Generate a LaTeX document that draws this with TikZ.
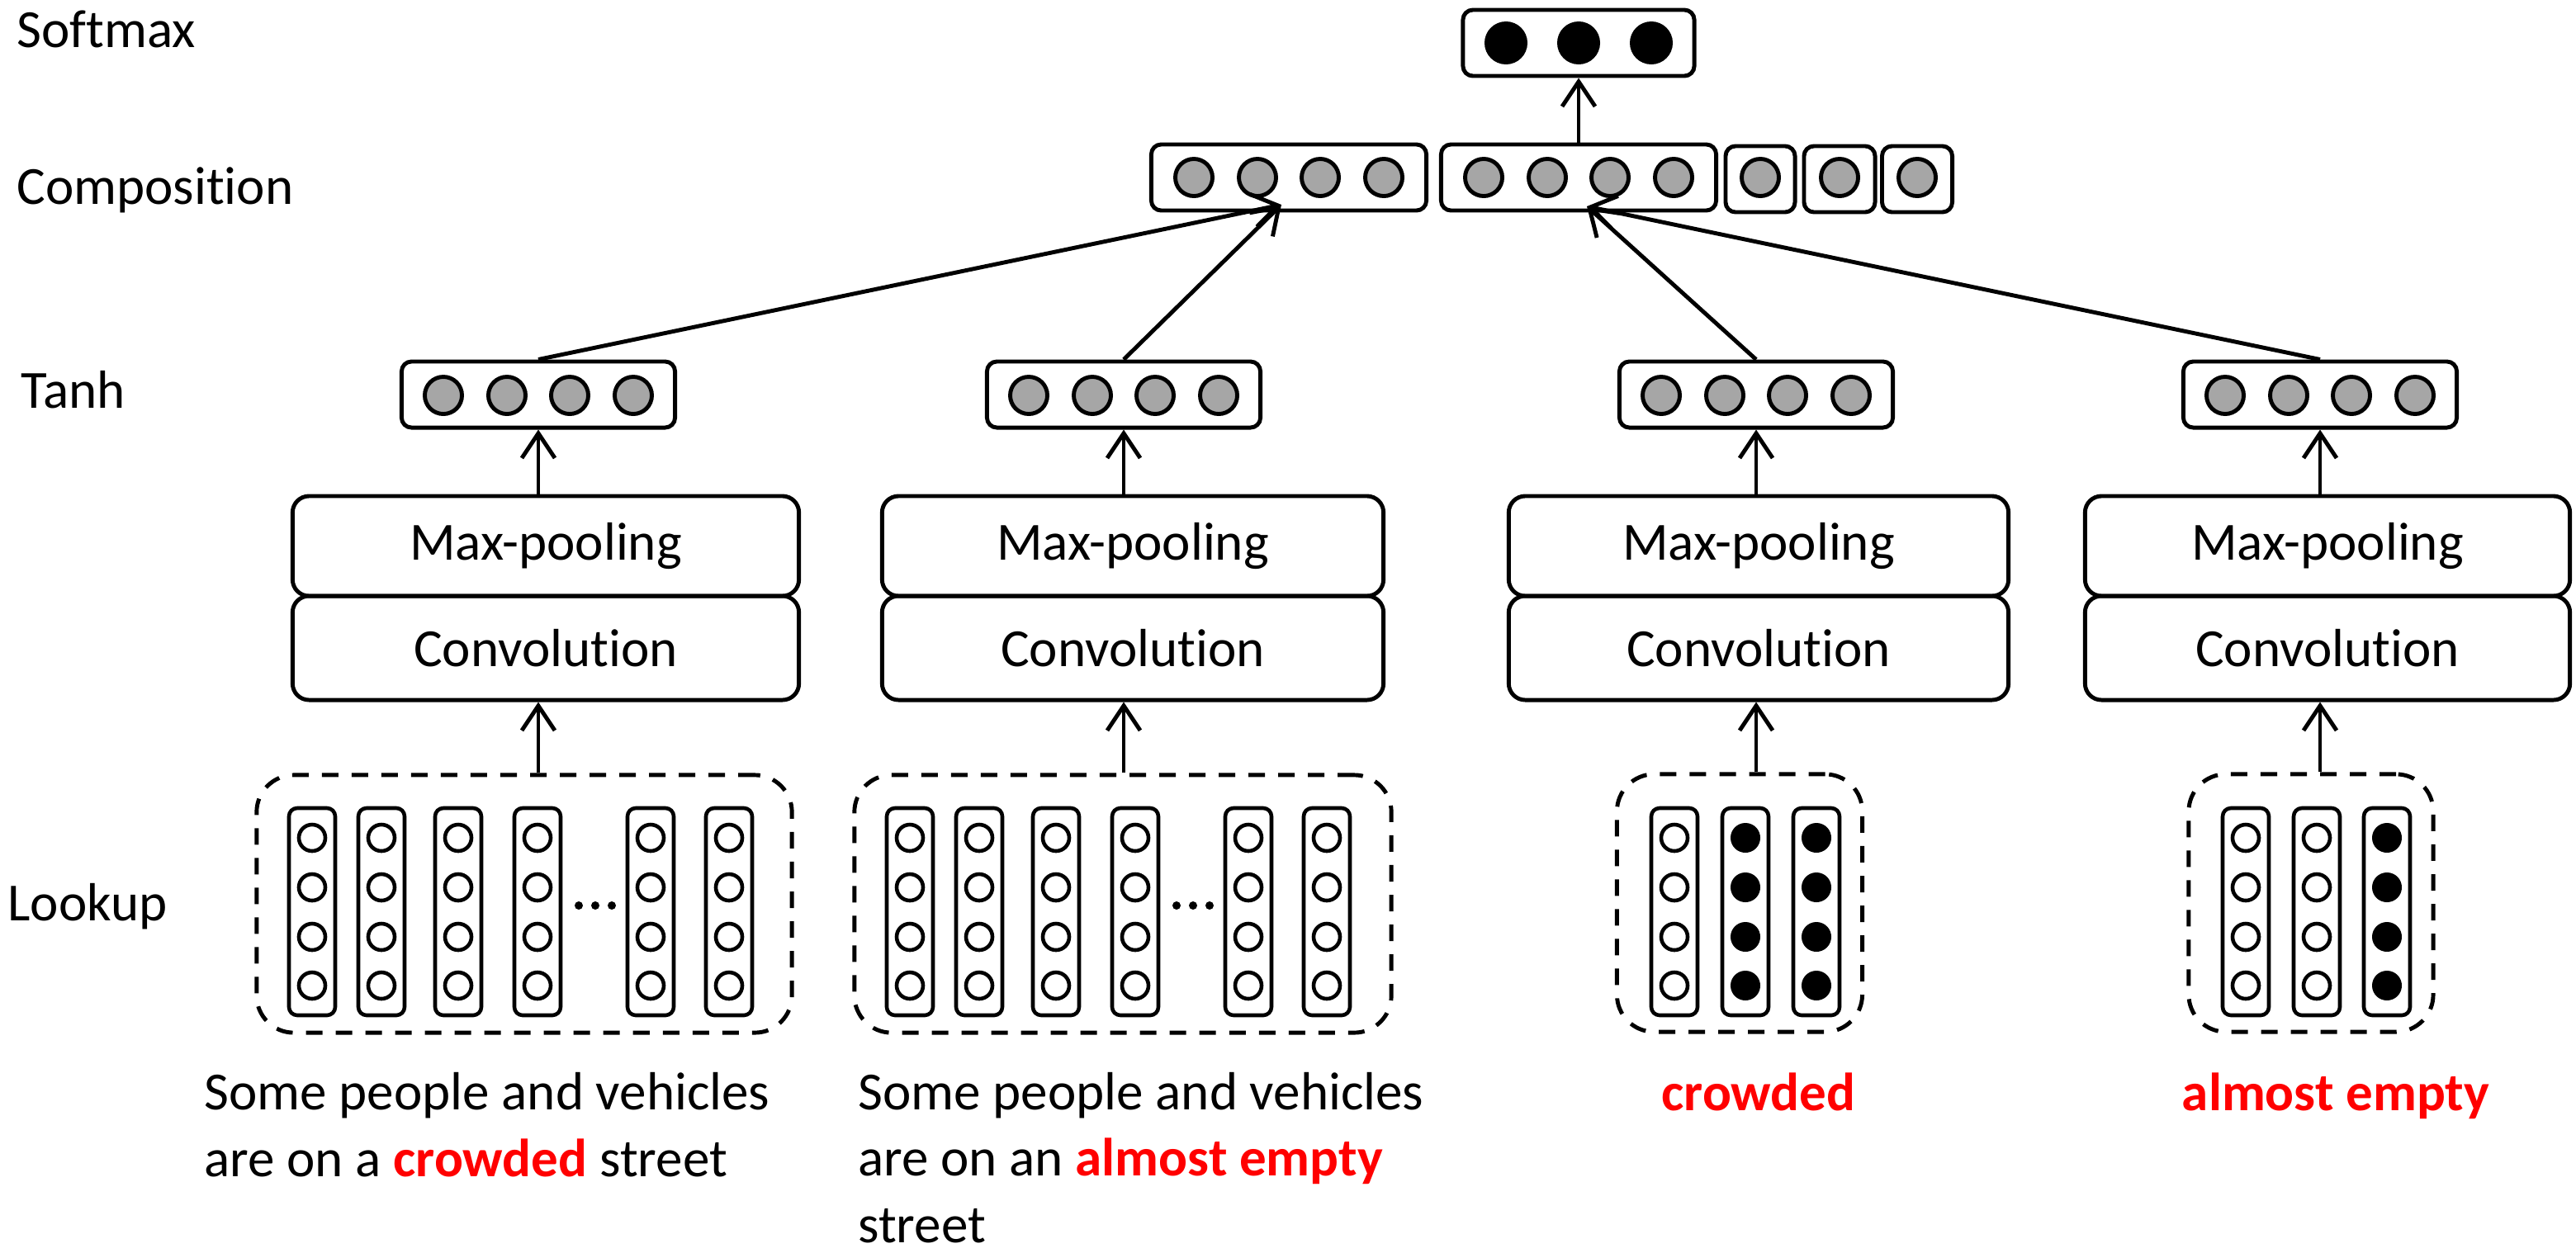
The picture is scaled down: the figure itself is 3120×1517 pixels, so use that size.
\documentclass[tikz,border=0pt]{standalone}
\usepackage{fontspec}
\setmainfont{Carlito}[Ligatures=NoCommon]
\usetikzlibrary{arrows.meta}
\definecolor{unit}{HTML}{A6A6A6}
\definecolor{keyword}{HTML}{FF0000}

\begin{document}
\begin{tikzpicture}[x=0.01cm, y=-0.01cm, line width=1.4pt,
  every node/.style={font=\fontsize{18.5}{22.8}\selectfont},
  vecbox/.style={draw, rounded corners=0.12cm, minimum height=0.8cm, inner sep=0pt},
  layerbox/.style={draw, rounded corners=0.2cm, inner sep=0pt},
  lookbox/.style={draw, dash pattern=on 0.2cm off 0.16cm, rounded corners=0.45cm, minimum height=3.12cm, inner sep=0pt},
  arr/.style={-{Straight Barb[length=0.3cm, width=0.4cm]}},
  lab/.style={anchor=base west, inner sep=0pt}]
  \useasboundingbox (0,0) rectangle (3120,1517);

  % Layer names
  \node[lab] (lsoft) at (18,57) {Softmax};
  \node[lab] (lcomp) at (18,247) {Composition};
  \node[lab] (ltanh) at (23,494) {Tanh};
  \node[lab] (llook) at (7,1115) {Lookup};

  % Softmax
  \node[vecbox, minimum width=2.8cm] (soft) at (1912,52) {};
  \foreach \x in {1824,1912,2000}
    \fill (\x,52) circle[radius=0.26cm];

  % Composition
  \node[vecbox, minimum width=3.33cm] (comp1) at (1561,215) {};
  \node[vecbox, minimum width=3.33cm] (comp2) at (1912,215) {};
  \node[vecbox, minimum width=0.84cm] (comp3) at (2132,217) {};
  \node[vecbox, minimum width=0.86cm] (comp4) at (2228,217) {};
  \node[vecbox, minimum width=0.85cm] (comp5) at (2322,217) {};
  \foreach \x in {1446,1523,1599,1676,1797,1874,1950,2027,2132,2228,2322}
    \filldraw[fill=unit] (\x,215) circle[radius=0.225cm];

  % Tanh, max-pooling and convolution
  \foreach \n/\x/\p/\w in {1/652/661/6.13, 2/1361/1372/6.07, 3/2127/2130/6.05, 4/2810/2819/5.87} {
    \node[vecbox, minimum width=3.31cm] (tanh\n) at (\x,478) {};
    \foreach \dx in {-115,-38,38,115}
      \filldraw[fill=unit] (\x+\dx,479) circle[radius=0.225cm];
    \node[layerbox, minimum width=\w cm, minimum height=1.21cm] (pool\n) at (\p,661.5) {Max-pooling};
    \node[layerbox, minimum width=\w cm, minimum height=1.26cm] (conv\n) at (\p,785) {Convolution};
  }

  % Lookup
  \node[lookbox, minimum width=6.48cm] (look1) at (635,1095) {};
  \node[lookbox, minimum width=6.5cm] (look2) at (1360,1095) {};
  \node[lookbox, minimum width=2.97cm] (look3) at (2107,1094) {};
  \node[lookbox, minimum width=2.96cm] (look4) at (2799,1094) {};
  \foreach \x in {378,462,555,651,788,883,1102,1186,1279,1375,1512,1607,2028,2720,2806} {
    \draw[line width=1.3pt, rounded corners=0.1cm] (\x-28,979) rectangle (\x+28,1230);
    \foreach \y in {1015,1075,1135,1194}
      \draw[line width=1.3pt] (\x,\y) circle[radius=0.16cm];
  }
  \foreach \x in {2114,2200,2891} {
    \draw[line width=1.3pt, rounded corners=0.1cm] (\x-28,979) rectangle (\x+28,1230);
    \foreach \y in {1015,1075,1135,1194}
      \fill (\x,\y) circle[radius=0.18cm];
  }
  \foreach \x in {701,721,741,1425,1445,1465}
    \fill (\x,1097) circle[radius=0.05cm];

  % Sentences
  \node[lab, align=left] (sent1) at (245,1425)
    {Some people and vehicles\\are on a \textcolor{keyword}{\bfseries crowded} street};
  \node[lab, align=left] (sent2) at (1037,1505)
    {Some people and vehicles\\are on an \textcolor{keyword}{\bfseries almost empty}\\street};
  \node[anchor=base, inner sep=0pt, text=keyword] (word1) at (2130,1345) {\bfseries crowded};
  \node[anchor=base, inner sep=0pt, text=keyword] (word2) at (2829,1345) {\bfseries almost empty};

  % Connections
  \coordinate (in1) at (1552,248);
  \coordinate (in2) at (1922,250);
  \foreach \n in {1,2,3,4} {
    \draw[arr] (look\n.north -| tanh\n) -- (conv\n.south -| tanh\n);
    \draw[arr] (pool\n.north -| tanh\n) -- (tanh\n.south);
  }
  \draw[arr] (tanh1.north) -- (in1);
  \draw[arr] (tanh2.north) -- (in1);
  \draw[arr] (tanh3.north) -- (in2);
  \draw[arr] (tanh4.north) -- (in2);
  \draw[arr] (comp2.north) -- (soft.south);
\end{tikzpicture}
\end{document}
